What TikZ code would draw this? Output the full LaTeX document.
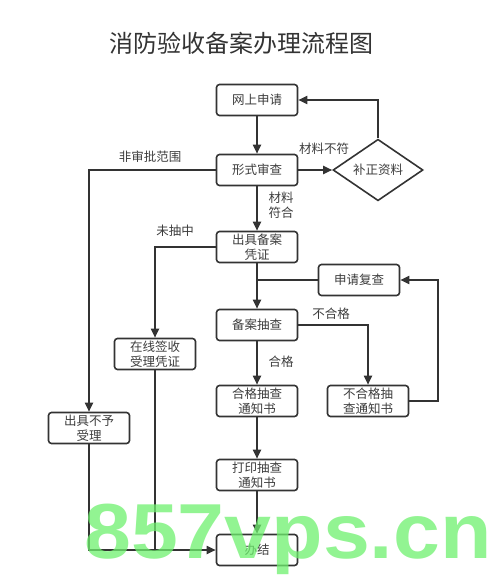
\documentclass[tikz,border=0pt]{standalone}
\usepackage{fontspec}
\newfontfamily\cjk{Noto Sans CJK SC}
\newfontfamily\markfont{Liberation Sans}
\usetikzlibrary{arrows.meta,shapes.geometric}
\definecolor{linecol}{RGB}{51,51,51}
\definecolor{textcol}{RGB}{60,60,60}
\definecolor{markcol}{RGB}{110,240,110}

\begin{document}
\begin{tikzpicture}[x=1pt,y=-1pt,
  box/.style={draw=linecol, line width=1.6pt, rounded corners=3pt,
    minimum width=81pt, minimum height=31pt, inner sep=1pt, align=center,
    text=textcol, font=\cjk\fontsize{12.5}{14.5}\selectfont},
  choice/.style={diamond, draw=linecol, line width=1.6pt, inner sep=0pt,
    minimum width=90pt, minimum height=57pt, text=textcol,
    font=\cjk\fontsize{12.5}{14.5}\selectfont},
  tag/.style={align=center, text=textcol, inner sep=0pt,
    font=\cjk\fontsize{12.5}{14.5}\selectfont},
  flow/.style={draw=linecol, line width=1.8pt, -{Triangle[width=8pt,length=9pt]}},
  link/.style={draw=linecol, line width=1.8pt}]

\useasboundingbox (0,0) rectangle (500,580);

\node[text=linecol, font=\cjk\fontsize{24}{26}\selectfont] (title) at (241,43) {消防验收备案办理流程图};

\node[box] (apply) at (257,100) {网上申请};
\node[box] (check) at (257,170) {形式审查};
\node[choice] (fix) at (378,170) {补正资料};
\node[box] (record) at (257,247) {出具备案\\凭证};
\node[box] (recheck) at (359,280) {申请复查};
\node[box] (spot) at (257,325) {备案抽查};
\node[box] (sign) at (155,354) {在线签收\\受理凭证};
\node[box] (pass) at (257,401) {合格抽查\\通知书};
\node[box] (fail) at (368,401) {不合格抽\\查通知书};
\node[box] (refuse) at (89,428) {出具不予\\受理};
\node[box] (print) at (257,475) {打印抽查\\通知书};
\node[box] (done) at (257,550) {办结};

\node[tag] (wrong) at (324,149) {材料不符};
\node[tag] (outside) at (150,157) {非审批范围};
\node[tag] (right) at (281,205) {材料\\符合};
\node[tag] (missed) at (175,231) {未抽中};
\node[tag] (failtag) at (331,314) {不合格};
\node[tag] (passtag) at (281,362) {合格};

\coordinate (join) at (257,280);
\coordinate (back) at (438,401);

\draw[flow] (apply) -- (check);
\draw[flow] (check) -- (fix);
\draw[flow] (fix.north) |- (apply.east);
\draw[flow] (check.west) -| (refuse.north);
\draw[flow] (check) -- (record);
\draw[flow] (record.west) -| (sign.north);
\draw[flow] (record) -- (spot);
\draw[link] (recheck.west) -- (join);
\draw[flow] (spot.east) -| (fail.north);
\draw[flow] (fail.east) -- (back) |- (recheck.east);
\draw[flow] (spot) -- (pass);
\draw[flow] (pass) -- (print);
\draw[flow] (print) -- (done);
\draw[flow] (refuse.south) |- (done.west);
\draw[link] (sign.south) -- (sign.south |- done.west);

\node[text=markcol, opacity=0.75, font=\markfont\bfseries\fontsize{78}{80}\selectfont] (mark) at (288,539) {\scalebox{1.08}[1]{857vps.cn}};
\end{tikzpicture}
\end{document}
